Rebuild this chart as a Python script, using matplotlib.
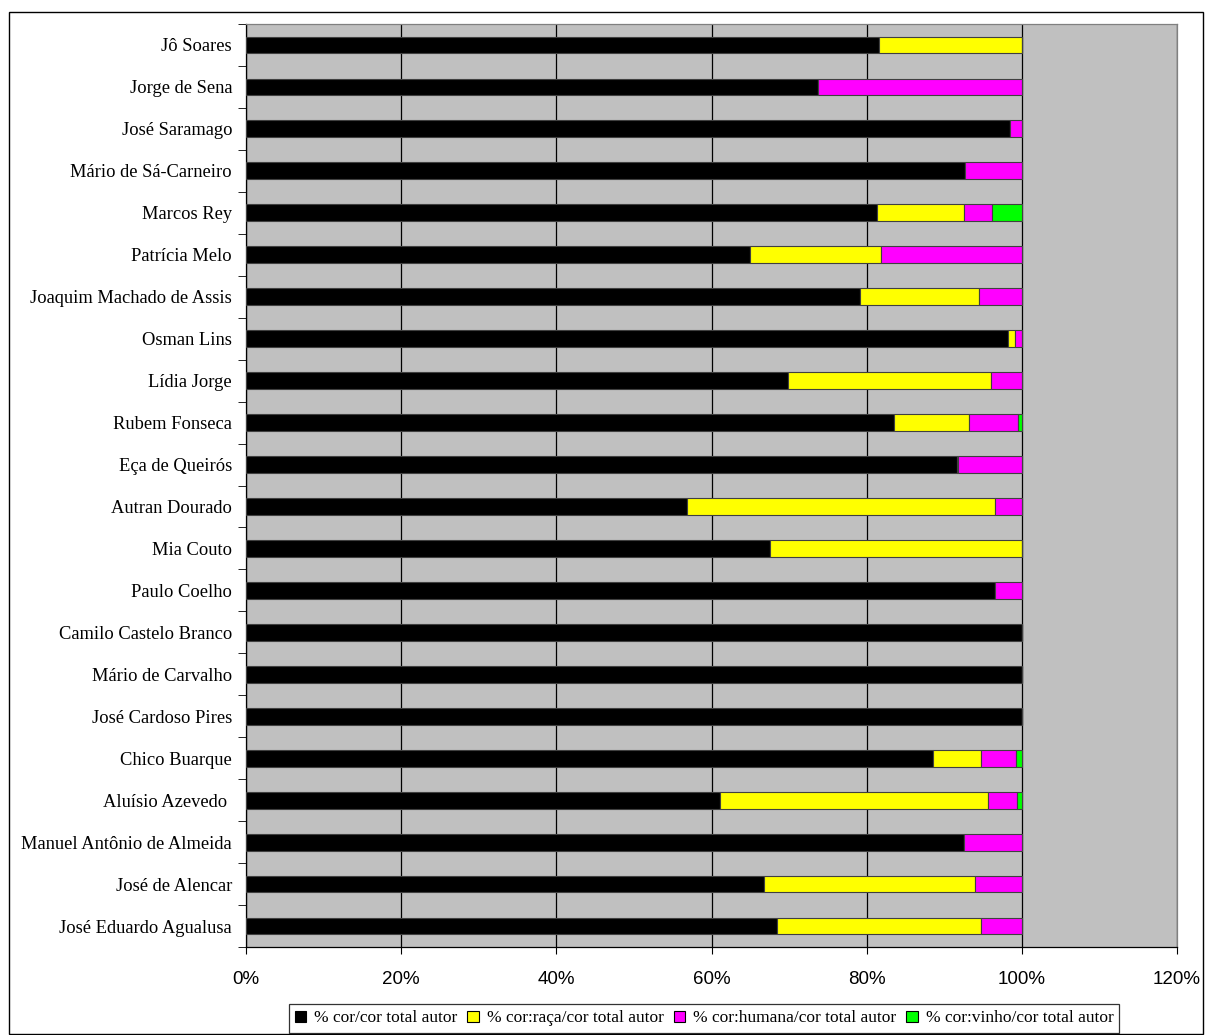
import matplotlib.pyplot as plt
import matplotlib.patches as mpatches
import numpy as np

autores = ['Jô Soares', 'Jorge de Sena', 'José Saramago', 'Mário de Sá-Carneiro',
           'Marcos Rey', 'Patrícia Melo', 'Joaquim Machado de Assis', 'Osman Lins',
           'Lídia Jorge', 'Rubem Fonseca', 'Eça de Queirós', 'Autran Dourado',
           'Mia Couto', 'Paulo Coelho', 'Camilo Castelo Branco', 'Mário de Carvalho',
           'José Cardoso Pires', 'Chico Buarque', 'Aluísio Azevedo ',
           'Manuel Antônio de Almeida', 'José de Alencar', 'José Eduardo Agualusa']

cor = [81.6, 73.7, 98.5, 92.7, 81.3, 65.0, 79.2, 98.2, 69.9, 83.5, 91.6, 56.8,
       67.5, 96.6, 100.0, 100.0, 100.0, 88.5, 61.1, 92.5, 66.8, 68.5]
raca = [18.4, 0.0, 0.0, 0.0, 11.2, 16.8, 15.3, 0.9, 26.1, 9.7, 0.2, 39.7,
        32.5, 0.0, 0.0, 0.0, 0.0, 6.3, 34.5, 0.0, 27.2, 26.3]
humana = [0.0, 26.3, 1.5, 7.3, 3.7, 18.2, 5.5, 0.9, 4.0, 6.3, 8.2, 3.5,
          0.0, 3.4, 0.0, 0.0, 0.0, 4.4, 3.8, 7.5, 6.0, 5.2]
vinho = [0.0, 0.0, 0.0, 0.0, 3.8, 0.0, 0.0, 0.0, 0.0, 0.5, 0.0, 0.0,
         0.0, 0.0, 0.0, 0.0, 0.0, 0.8, 0.6, 0.0, 0.0, 0.0]

series = [cor, raca, humana, vinho]
nomes = ['% cor/cor total autor', '% cor:raça/cor total autor',
         '% cor:humana/cor total autor', '% cor:vinho/cor total autor']
cores = ['#000000', '#FFFF00', '#FF00FF', '#00FF00']

fig = plt.figure(figsize=(12.06, 10.35), dpi=100)
ax = fig.add_axes([246/1206, 1-947/1035, (1177-246)/1206, (947-24)/1035])
ax.set_facecolor('#C0C0C0')

y = np.arange(len(autores))
left = np.zeros(len(autores))
for vals, nome, c in zip(series, nomes, cores):
    v = np.array(vals)
    ax.barh(y, v, height=0.4, left=left, color=c, edgecolor='#404040',
            linewidth=0.8, label=nome, zorder=3)
    left = left + v

ax.set_xlim(0, 120)
ax.set_ylim(len(autores)-0.5, -0.5)
ax.set_xticks(range(0, 121, 20))
ax.set_xticklabels([f'{t}%' for t in range(0, 121, 20)], fontsize=13.5,
                   family='Liberation Sans')
ax.xaxis.grid(True, color='black', linewidth=0.9, zorder=1)

ax.set_yticks(y)
ax.set_yticklabels(autores, fontsize=13.3, family='Liberation Serif')
ax.set_yticks(np.arange(-0.5, len(autores)), minor=True)
ax.tick_params(axis='y', which='major', length=0, pad=10)
ax.tick_params(axis='y', which='minor', length=6, color='black')
ax.tick_params(axis='x', length=5, pad=12)

for s in ax.spines.values():
    s.set_color('#808080')
    s.set_linewidth(0.9)
ax.spines['left'].set_color('black')
ax.spines['bottom'].set_color('black')

handles = [mpatches.Patch(facecolor=c, edgecolor='black', linewidth=0.8, label=n)
           for c, n in zip(cores, nomes)]
leg = fig.legend(handles=handles, loc='center', bbox_to_anchor=(704/1206, 1-1018.5/1035),
                 ncol=4, frameon=True, fancybox=False, edgecolor='black',
                 prop={'family': 'Liberation Serif', 'size': 12.5},
                 handlelength=0.65, handleheight=0.65, handletextpad=0.45,
                 columnspacing=0.6, borderpad=0.35, borderaxespad=0)
leg.get_frame().set_linewidth(0.9)

fig.patches.append(mpatches.Rectangle((9/1206, 1-1034/1035), 1194/1206, 1022/1035,
                                      transform=fig.transFigure, fill=False,
                                      edgecolor='black', linewidth=1))

fig.savefig('out.png', dpi=100)
